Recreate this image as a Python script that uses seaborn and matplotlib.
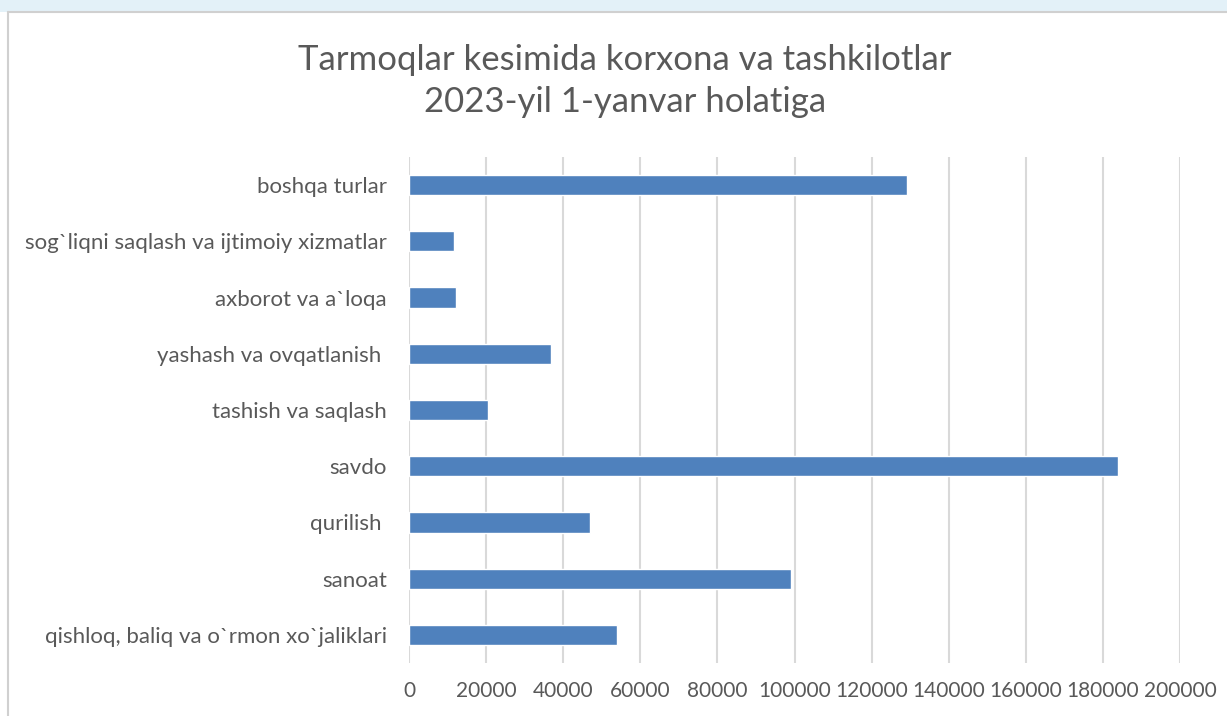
import pandas as pd
import seaborn as sns
import matplotlib.pyplot as plt
from matplotlib.patches import Rectangle

# ma'lumotlar (yuqoridan pastga)
tarmoqlar = ['boshqa turlar',
             'sog`liqni saqlash va ijtimoiy xizmatlar',
             'axborot va a`loqa',
             'yashash va ovqatlanish ',
             'tashish va saqlash',
             'savdo',
             'qurilish ',
             'sanoat',
             'qishloq, baliq va o`rmon xo`jaliklari']
soni = [129300, 11600, 12200, 36800, 20600, 184000, 47000, 99000, 53900]
x_ticks = [0, 20000, 40000, 60000, 80000, 100000, 120000, 140000, 160000, 180000, 200000]

df = pd.DataFrame({'tarmoq': tarmoqlar, 'soni': soni})

sns.set_style('white')
plt.rcParams['font.family'] = ['Lato', 'DejaVu Sans']

fig = plt.figure(figsize=(12.27, 7.16), dpi=100)
fig.patch.set_facecolor('white')

# slayd foni va diagramma ramkasi
fig.patches.append(Rectangle((0, 1 - 12 / 716), 1, 12 / 716, transform=fig.transFigure,
                             facecolor='#e3f1f8', edgecolor='none', zorder=0))
fig.add_artist(plt.Line2D([8 / 1227, 8 / 1227], [0, 1 - 12 / 716], transform=fig.transFigure,
                          color='#d0d0d0', lw=1.5))
fig.add_artist(plt.Line2D([8 / 1227, 1], [1 - 12 / 716, 1 - 12 / 716], transform=fig.transFigure,
                          color='#d0d0d0', lw=1.5))

ax = fig.add_axes([409 / 1227, 1 - 663 / 716, (1180 - 409) / 1227, (663 - 157) / 716])
sns.barplot(data=df, x='soni', y='tarmoq', orient='h', color='#4f81bd',
            width=0.36, saturation=1, ax=ax, zorder=3)

ax.set_xlim(0, 200000)
ax.set_xticks(x_ticks)
ax.set_xticklabels([str(t) for t in x_ticks])
ax.grid(axis='x', color='#d9d9d9', lw=1.5, zorder=0)
ax.grid(axis='y', visible=False)
for s in ax.spines.values():
    s.set_visible(False)
ax.tick_params(axis='both', length=0, colors='#595959')
ax.tick_params(axis='y', pad=16, labelsize=16)
ax.tick_params(axis='x', pad=13, labelsize=15)
ax.set_xlabel('')
ax.set_ylabel('')

fig.text(625 / 1227, 1 - 60 / 716, 'Tarmoqlar kesimida korxona va tashkilotlar',
         ha='center', va='center', fontsize=25, color='#595959')
fig.text(625 / 1227, 1 - 102 / 716, '2023-yil 1-yanvar holatiga',
         ha='center', va='center', fontsize=25, color='#595959')

fig.savefig('out.png', dpi=100)
